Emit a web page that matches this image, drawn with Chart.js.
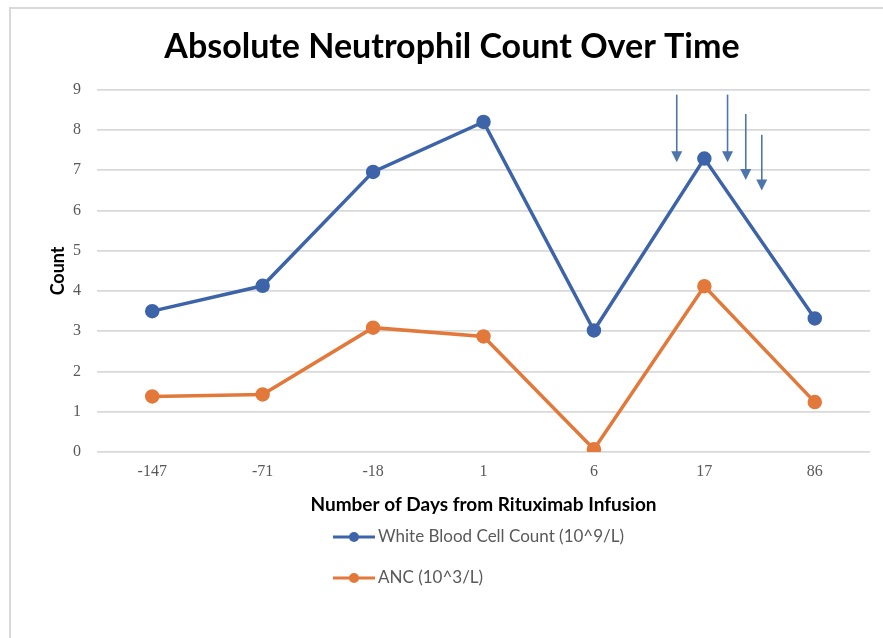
<!DOCTYPE html>
<html>
<head>
<meta charset="utf-8">
<script src="https://cdn.jsdelivr.net/npm/chart.js@4.4.1/dist/chart.umd.min.js"></script>
<style>
    html, body { margin: 0; padding: 0; background: #fff; }
    #wrap { width: 883px; height: 638px; position: relative; }
</style>
</head>
<body>
<div id="wrap"><canvas id="anc-chart"></canvas></div>
<script>
const days = ['-147', '-71', '-18', '1', '6', '17', '86'];
const wbcCount = [3.5, 4.13, 6.96, 8.2, 3.02, 7.29, 3.32];
const ancCount = [1.38, 1.43, 3.09, 2.87, 0.07, 4.12, 1.24];
const yTicks = [0, 1, 2, 3, 4, 5, 6, 7, 8, 9];

// arrows over the 17-day peak: category position, start value, tip value
const arrowX = [4.75, 5.21, 5.375, 5.52];
const arrowFrom = [8.88, 8.88, 8.4, 7.88];
const arrowTo = [7.2, 7.2, 6.76, 6.5];

const blue = '#3d64a9';
const orange = '#e2793b';
const arrowColor = '#4d74ab';
const gray = '#595959';

const framePlugin = {
    id: 'frame',
    beforeDraw(chart) {
        const ctx = chart.ctx;
        ctx.save();
        ctx.fillStyle = '#fff';
        ctx.fillRect(0, 0, chart.width, chart.height);
        ctx.strokeStyle = '#d9d9d9';
        ctx.lineWidth = 2;
        ctx.strokeRect(10, 8, chart.width + 20, chart.height + 20);
        ctx.restore();
    }
};

const arrowPlugin = {
    id: 'arrows',
    afterDatasetsDraw(chart) {
        const ctx = chart.ctx;
        const x = chart.scales.x;
        const y = chart.scales.y;
        ctx.save();
        ctx.strokeStyle = arrowColor;
        ctx.fillStyle = arrowColor;
        ctx.lineWidth = 1.6;
        arrowX.forEach((pos, i) => {
            const px = x.getPixelForValue(pos);
            const y0 = y.getPixelForValue(arrowFrom[i]);
            const y1 = y.getPixelForValue(arrowTo[i]);
            ctx.beginPath();
            ctx.moveTo(px, y0);
            ctx.lineTo(px, y1 - 10);
            ctx.stroke();
            ctx.beginPath();
            ctx.moveTo(px - 5.5, y1 - 11);
            ctx.lineTo(px + 5.5, y1 - 11);
            ctx.lineTo(px, y1);
            ctx.closePath();
            ctx.fill();
        });
        ctx.restore();
    }
};

const legendPlugin = {
    id: 'sideLegend',
    afterDraw(chart) {
        const ctx = chart.ctx;
        const top = chart.scales.x.bottom;
        ctx.save();
        ctx.font = '17px Lato';
        ctx.textBaseline = 'middle';
        chart.data.datasets.forEach((ds, i) => {
            const ly = top + 21 + i * 41;
            ctx.strokeStyle = ds.borderColor;
            ctx.lineWidth = 3;
            ctx.beginPath();
            ctx.moveTo(333, ly);
            ctx.lineTo(375, ly);
            ctx.stroke();
            ctx.fillStyle = ds.backgroundColor;
            ctx.beginPath();
            ctx.arc(354, ly, 5, 0, Math.PI * 2);
            ctx.fill();
            ctx.fillStyle = gray;
            ctx.fillText(ds.label, 378, ly);
        });
        ctx.restore();
    }
};

new Chart(document.getElementById('anc-chart'), {
    type: 'line',
    data: {
        labels: days,
        datasets: [{
            label: 'White Blood Cell Count (10^9/L)',
            data: wbcCount,
            borderColor: blue,
            backgroundColor: blue,
            borderWidth: 3.5,
            pointRadius: 5.5,
            pointHoverRadius: 5.5,
            tension: 0
        }, {
            label: 'ANC (10^3/L)',
            data: ancCount,
            borderColor: orange,
            backgroundColor: orange,
            borderWidth: 3.5,
            pointRadius: 5.5,
            pointHoverRadius: 5.5,
            tension: 0
        }]
    },
    options: {
        responsive: true,
        maintainAspectRatio: false,
        animation: false,
        layout: { padding: { left: 34, right: 13, top: 0, bottom: 122 } },
        plugins: {
            legend: { display: false },
            tooltip: { enabled: false },
            title: {
                display: true,
                text: 'Absolute Neutrophil Count Over Time',
                color: '#000',
                font: { family: 'Lato', size: 34, weight: 'bold' },
                padding: { top: 27, bottom: 22 }
            }
        },
        scales: {
            x: {
                offset: true,
                grid: { display: false },
                border: { display: false },
                ticks: {
                    color: gray,
                    padding: 2,
                    font: { family: 'Liberation Serif', size: 16 }
                },
                title: {
                    display: true,
                    text: 'Number of Days from Rituximab Infusion',
                    color: '#000',
                    font: { family: 'Lato', size: 19, weight: 'bold' },
                    padding: { top: 10, bottom: 0 }
                }
            },
            y: {
                min: 0,
                max: 9,
                afterFit(scale) { scale.width = 63; },
                afterBuildTicks(scale) { scale.ticks = yTicks.map(v => ({ value: v })); },
                grid: { color: '#d9d9d9', lineWidth: 1.8, drawTicks: false },
                border: { display: false },
                ticks: {
                    color: gray,
                    padding: 16,
                    font: { family: 'Liberation Serif', size: 16 }
                },
                title: {
                    display: true,
                    text: 'Count',
                    color: '#000',
                    font: { family: 'Lato', size: 18, weight: 'bold' },
                    padding: { top: 13, bottom: 0 }
                }
            }
        }
    },
    plugins: [framePlugin, arrowPlugin, legendPlugin]
});
</script>
</body>
</html>
